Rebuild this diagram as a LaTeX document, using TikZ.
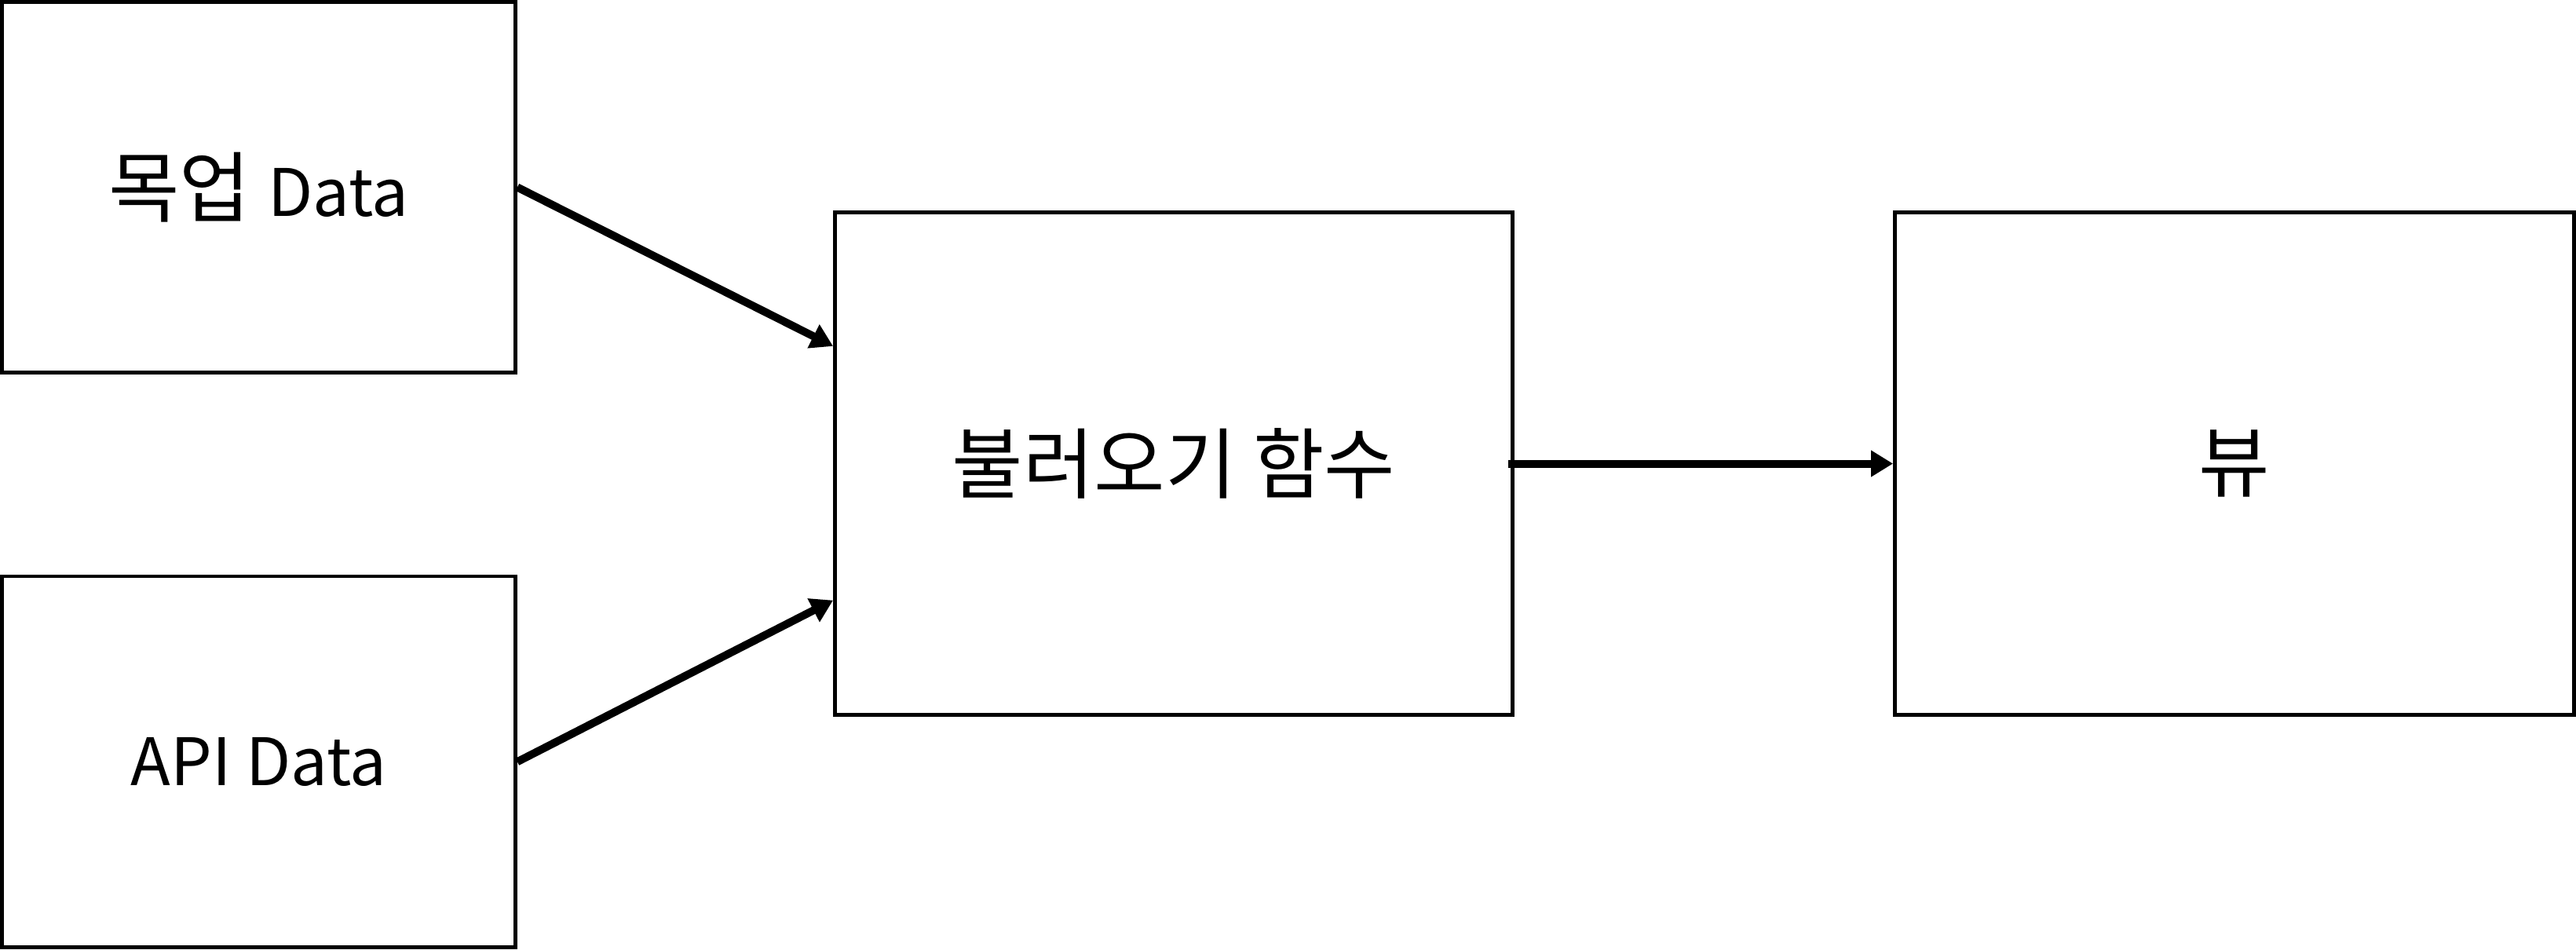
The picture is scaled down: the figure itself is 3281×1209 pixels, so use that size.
\documentclass[tikz,border=0pt]{standalone}
\usepackage{fontspec}
\newfontfamily\kr{Noto Sans CJK KR}
\usetikzlibrary{arrows.meta,calc}
\begin{document}
\begin{tikzpicture}[x=0.3pt,y=-0.3pt,
  box/.style={draw,line width=1.45pt,inner sep=0pt,align=center,
    font=\kr\fontsize{29.5}{35}\selectfont},
  flow/.style={line width=3pt,-{Triangle[length=8.4pt,width=9.6pt]}}]
\newcommand{\lt}[1]{{\fontsize{25}{30}\selectfont #1}}
\useasboundingbox (0,0) rectangle (3281,1209);
\node[box,minimum width=196.2pt,minimum height=141.6pt] (mock) at (329.5,238.5) {목업 \lt{Data}};
\node[box,minimum width=196.2pt,minimum height=141.75pt] (api) at (329.5,970.25) {\lt{API Data}};
\node[box,minimum width=258.9pt,minimum height=192pt] (fetch) at (1495,590.5) {불러오기 함수};
\node[box,minimum width=259.5pt,minimum height=192pt] (view) at (2846,590.5) {뷰};
\draw[flow] (mock.east) -- ($(fetch.north west)!0.268!(fetch.south west)$);
\draw[flow] (api.east) -- ($(fetch.north west)!0.77!(fetch.south west)$);
\draw[flow] ([xshift=-2.4pt]fetch.east) -- (view.west);
\end{tikzpicture}
\end{document}
